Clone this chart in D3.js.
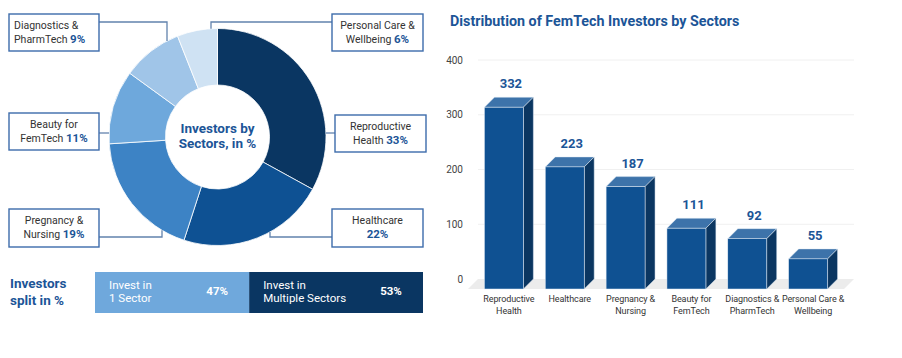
<!DOCTYPE html>
<html><head><meta charset="utf-8">
<script src="https://cdn.jsdelivr.net/npm/d3@7/dist/d3.min.js"></script>
<style>
html,body{margin:0;padding:0;background:#fff;}
svg{display:block;font-family:Roboto, "Noto Sans", sans-serif;}
</style></head>
<body>
<svg id="c" width="902" height="358"></svg>
<script>
// ---- data ----
const sectors = ["Reproductive Health","Healthcare","Pregnancy & Nursing","Beauty for FemTech","Diagnostics & PharmTech","Personal Care & Wellbeing"];
const sharePct = [33, 22, 19, 11, 9, 6];
const investorCounts = [332, 223, 187, 111, 92, 55];
const barLabelLines = [["Reproductive","Health"],["Healthcare"],["Pregnancy &","Nursing"],["Beauty for","FemTech"],["Diagnostics &","PharmTech"],["Personal Care &","Wellbeing"]];
const boxLabelLines = [["Reproductive","Health"],["Healthcare",""],["Pregnancy &","Nursing"],["Beauty for","FemTech"],["Diagnostics &","PharmTech"],["Personal Care &","Wellbeing"]];
const splitLabels = [["Invest in","1 Sector"],["Invest in","Multiple Sectors"]];
const splitPct = [47, 53];
const yTicks = [0, 100, 200, 300, 400];

const sliceColors = ["#0a3662","#0e5193","#3d83c5","#6ea8dc","#a0c5e8","#cfe2f3"];
const textBlue = "#1c5597";
const svg = d3.select("#c");

// ---- donut ----
const cx = 217.5, cy = 137, rOut = 108.5, rIn = 52;
const pie = d3.pie().sort(null).value(d => d)(sharePct);
const arc = d3.arc().innerRadius(rIn).outerRadius(rOut);
const gD = svg.append("g").attr("transform", `translate(${cx},${cy})`);
gD.selectAll("path").data(pie).join("path")
  .attr("d", arc).attr("fill", (d,i) => sliceColors[i])
  .attr("stroke", "#fff").attr("stroke-width", 0.8);
gD.append("text").attr("text-anchor","middle").attr("y",-4)
  .attr("font-size",13.5).attr("font-weight",700).attr("fill",textBlue).text("Investors by");
gD.append("text").attr("text-anchor","middle").attr("y",11)
  .attr("font-size",13.5).attr("font-weight",700).attr("fill",textBlue).text("Sectors, in %");

// label boxes layout
const boxes = [
  {x:335, y:115, w:91, h:37, side:"R", ly:133, via:null, anchor:"middle"},
  {x:332, y:209, w:91, h:38, side:"R", ly:237, via:270, anchor:"middle"},
  {x:9,   y:209, w:90, h:38, side:"L", ly:237, via:162, anchor:"middle"},
  {x:9,   y:113, w:90, h:37, side:"L", ly:133, via:null, anchor:"middle"},
  {x:9,   y:14,  w:90, h:37, side:"L", ly:22,  via:167, anchor:"start"},
  {x:332, y:14,  w:91, h:37, side:"R", ly:22,  via:211, anchor:"middle"}
];
const gL = svg.append("g");
boxes.forEach((b,i) => {
  const bx = b.side === "R" ? b.x : b.x + b.w;
  let pts;
  if (b.via === null) {
    const dy = b.ly - cy;
    const ex = cx + (b.side === "R" ? 1 : -1) * Math.sqrt(rOut*rOut - dy*dy);
    pts = [[bx,b.ly],[ex,b.ly]];
  } else {
    const dx = b.via - cx;
    const s = b.ly < cy ? -1 : 1;
    const ey = cy + s * Math.sqrt(rOut*rOut - dx*dx);
    pts = [[bx,b.ly],[b.via,b.ly],[b.via,ey]];
  }
  gL.append("path").attr("d", d3.line()(pts)).attr("fill","none")
    .attr("stroke","#6283ad").attr("stroke-width",1.3);
  gL.append("rect").attr("x",b.x).attr("y",b.y).attr("width",b.w).attr("height",b.h)
    .attr("fill","#fff").attr("stroke","#3d6cab").attr("stroke-width",1.4);
  const tx = b.anchor === "start" ? b.x + 5 : b.x + b.w/2;
  const [l1, l2] = boxLabelLines[i];
  gL.append("text").attr("x",tx).attr("y",b.y+14.5).attr("text-anchor",b.anchor)
    .attr("font-size",10.5).attr("fill","#333").text(l1);
  const t2 = gL.append("text").attr("x",tx).attr("y",b.y+29).attr("text-anchor",b.anchor)
    .attr("font-size",10.5).attr("fill","#333");
  if (l2) t2.append("tspan").text(l2 + " ");
  t2.append("tspan").attr("font-weight",700).attr("fill",textBlue).attr("font-size",11.5).text(sharePct[i] + "%");
});

// ---- split bar ----
svg.append("text").attr("x",10).attr("y",288).attr("font-size",13.5).attr("font-weight",700)
  .attr("fill",textBlue).text("Investors");
svg.append("text").attr("x",10).attr("y",305).attr("font-size",13.5).attr("font-weight",700)
  .attr("fill",textBlue).text("split in %");
const sx = d3.scaleLinear().domain([0,100]).range([95,423]);
const splitColors = ["#6fa8dc","#0a3662"];
let acc = 0;
splitPct.forEach((p,i) => {
  const x0 = sx(acc), x1 = sx(acc + p);
  svg.append("rect").attr("x",x0).attr("y",272).attr("width",x1-x0).attr("height",41)
    .attr("fill",splitColors[i]);
  svg.append("text").attr("x",x0+14).attr("y",289).attr("font-size",11.5).attr("fill","#fff")
    .text(splitLabels[i][0]);
  svg.append("text").attr("x",x0+14).attr("y",302).attr("font-size",11.5).attr("fill","#fff")
    .text(splitLabels[i][1]);
  svg.append("text").attr("x",x1-32).attr("y",295).attr("text-anchor","middle")
    .attr("font-size",11.5).attr("font-weight",700).attr("fill","#fff").text(p + "%");
  acc += p;
});

// ---- 3D bar chart ----
svg.append("text").attr("x",450).attr("y",26).attr("font-size",14.3).attr("font-weight",700)
  .attr("fill",textBlue).text("Distribution of FemTech Investors by Sectors");
const gx0 = 478, gx1 = 854, dep = 10;
const y = d3.scaleLinear().domain([0,400]).range([279,60]);
const x = d3.scaleBand().domain(sectors).range([gx0,gx1]).paddingInner(0.36).paddingOuter(0.27);
const gB = svg.append("g");
gB.selectAll("line.grid").data(yTicks.filter(t => t > 0)).join("line")
  .attr("x1",gx0).attr("x2",gx1).attr("y1",d=>y(d)).attr("y2",d=>y(d))
  .attr("stroke","#f0f0f0").attr("stroke-width",1);
gB.append("path").attr("d", d3.line()([[gx0,y(0)],[gx1,y(0)],[gx1-dep,y(0)+dep],[gx0-dep,y(0)+dep]]) + "Z")
  .attr("fill","#ececec");
const yAx = gB.append("g").attr("transform",`translate(${gx0},0)`)
  .call(d3.axisLeft(y).tickValues(yTicks).tickSize(0).tickPadding(15));
yAx.select(".domain").remove();
yAx.selectAll("text").attr("font-size",10).attr("fill","#444").attr("font-family","Roboto, sans-serif");
const bw = x.bandwidth();
sectors.forEach((s,i) => {
  const xb = x(s), yv = y(investorCounts[i]), y0 = y(0);
  const g = gB.append("g");
  g.append("path").attr("d", d3.line()([[xb-dep,yv+dep],[xb,yv],[xb+bw,yv],[xb+bw-dep,yv+dep]])+"Z")
    .attr("fill","#3d73aa").attr("stroke","#e3ecf6").attr("stroke-width",0.5);
  g.append("path").attr("d", d3.line()([[xb+bw-dep,yv+dep],[xb+bw,yv],[xb+bw,y0],[xb+bw-dep,y0+dep]])+"Z")
    .attr("fill","#0b3661").attr("stroke","#e3ecf6").attr("stroke-width",0.5);
  g.append("rect").attr("x",xb-dep).attr("y",yv+dep).attr("width",bw).attr("height",y0-yv)
    .attr("fill","#0f5192").attr("stroke","#e3ecf6").attr("stroke-width",0.5);
  g.append("text").attr("x",xb+bw/2-3).attr("y",yv-9).attr("text-anchor","middle")
    .attr("font-size",13).attr("font-weight",700).attr("fill",textBlue).text(investorCounts[i]);
  barLabelLines[i].forEach((l,j) => {
    g.append("text").attr("x",xb+bw/2-5).attr("y",302+j*11.5).attr("text-anchor","middle")
      .attr("font-size",9).attr("letter-spacing",-0.1).attr("fill","#333").text(l);
  });
});
</script>
</body></html>
